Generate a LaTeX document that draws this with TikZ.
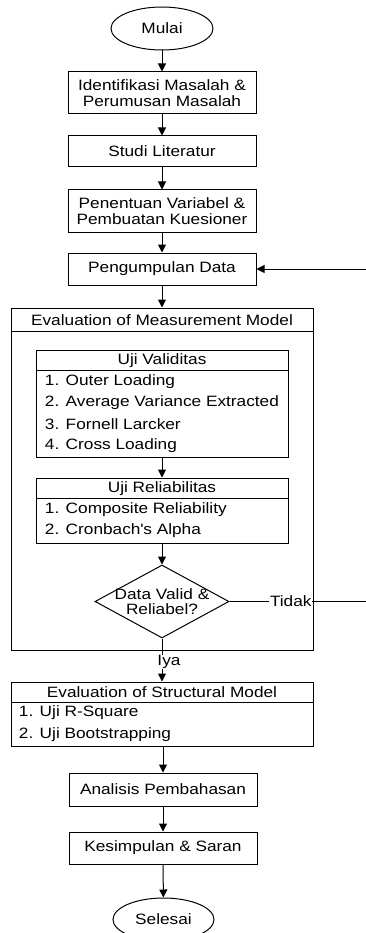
\documentclass[tikz,border=0pt]{standalone}
\usepackage{fontspec}
\setmainfont[FakeStretch=1.15]{Liberation Sans}
\usetikzlibrary{shapes.geometric,arrows.meta}

\tikzset{
  proses/.style={draw, line width=1pt, minimum width=188pt, inner sep=0.75pt, align=center},
  terminal/.style={draw, ellipse, line width=1pt, minimum width=102pt, minimum height=43pt, inner sep=0pt},
  wadah/.style={draw, line width=1pt, inner sep=0pt},
  butir/.style={anchor=west, inner sep=0.75pt},
  ket/.style={fill=white, inner sep=0.75pt},
  alur/.style={-{Triangle[length=8pt,width=8pt]}, line width=1pt},
}

\begin{document}
\begin{tikzpicture}[x=1pt,y=1pt,yscale=-1,xscale=1,font=\fontsize{15}{15.7}\selectfont]
\useasboundingbox (0,0) rectangle (366,933);
\clip (0,0) rectangle (366,933);

% Terminator
\node[terminal] (mulai) at (162,28.5) {Mulai};
% Process
\node[proses, minimum height=42pt] (identifikasi) at (162,93) {Identifikasi Masalah \&\\Perumusan Masalah};
\node[proses, minimum height=31pt] (studi) at (162,151.5) {Studi Literatur};
\node[proses, minimum height=42pt] (penentuan) at (162,211) {Penentuan Variabel \&\\Pembuatan Kuesioner};
\node[proses, minimum height=32pt] (pengumpulan) at (162,269) {Pengumpulan Data};

% Container: measurement model
\node[wadah, minimum width=302pt, minimum height=342pt] (ukur) at (162,479) {};
\draw[line width=1pt] ([yshift=24pt]ukur.north west) -- ([yshift=24pt]ukur.north east);
\node[inner sep=0.75pt] (ukurjudul) at (162,320) {Evaluation of Measurement Model};

% List: Uji Validitas
\node[wadah, minimum width=252pt, minimum height=107pt] (validitas) at (162,403.5) {};
\draw[line width=1pt] ([yshift=21pt]validitas.north west) -- ([yshift=21pt]validitas.north east);
\node[inner sep=0.75pt] (validitasjudul) at (162,360.5) {Uji Validitas};
\node[butir] (v1) at (44,382) {1. Outer Loading};
\node[butir] (v2) at (44,403) {2. Average Variance Extracted};
\node[butir] (v3) at (44,424.5) {3. Fornell Larcker};
\node[butir] (v4) at (44,446) {4. Cross Loading};

% List: Uji Reliabilitas
\node[wadah, minimum width=252pt, minimum height=65pt] (reliabilitas) at (162,510.5) {};
\draw[line width=1pt] ([yshift=21pt]reliabilitas.north west) -- ([yshift=21pt]reliabilitas.north east);
\node[inner sep=0.75pt] (reliabilitasjudul) at (162,488.5) {Uji Reliabilitas};
\node[butir] (r1) at (44,510) {1. Composite Reliability};
\node[butir] (r2) at (44,531) {2. Cronbach\textquotesingle s Alpha};

% Decision
\node[draw, diamond, line width=1pt, minimum width=134pt, minimum height=73pt, inner sep=0pt,
  label={[align=center, inner sep=0pt]center:Data Valid \&\\Reliabel?}] (cek) at (162,601.5) {};

% Container: structural model
\node[wadah, minimum width=302pt, minimum height=64pt] (struktur) at (162,714) {};
\draw[line width=1pt] ([yshift=21pt]struktur.north west) -- ([yshift=21pt]struktur.north east);
\node[inner sep=0.75pt] (strukturjudul) at (162,692.5) {Evaluation of Structural Model};
\node[butir] (s1) at (18,713) {1. Uji R-Square};
\node[butir] (s2) at (18,735) {2. Uji Bootstrapping};

\node[proses, minimum height=33pt] (analisis) at (163,789.5) {Analisis Pembahasan};
\node[proses, minimum height=32pt] (kesimpulan) at (163,848) {Kesimpulan \& Saran};
\node[terminal, minimum width=101pt] (selesai) at (163.5,919.5) {Selesai};

% Connectors
\draw[alur] (mulai) -- (identifikasi);
\draw[alur] (identifikasi) -- (studi);
\draw[alur] (studi) -- (penentuan);
\draw[alur] (penentuan) -- (pengumpulan);
\draw[alur] (pengumpulan) -- (ukur.north -| pengumpulan);
\draw[alur] (validitas) -- (reliabilitas);
\draw[alur] (reliabilitas) -- (cek);
\draw[alur] (cek.south) -- node[ket, xshift=7pt, yshift=-2pt] {Iya} (struktur.north);
\coordinate (balik) at (372,601.5);
\draw[alur] (cek.east) -- node[ket, pos=0.43] {Tidak} (balik) |- (pengumpulan.east);
\draw[alur] (struktur.south -| analisis) -- (analisis);
\draw[alur] (analisis) -- (kesimpulan);
\draw[alur] (kesimpulan) -- (selesai);

\end{tikzpicture}
\end{document}
